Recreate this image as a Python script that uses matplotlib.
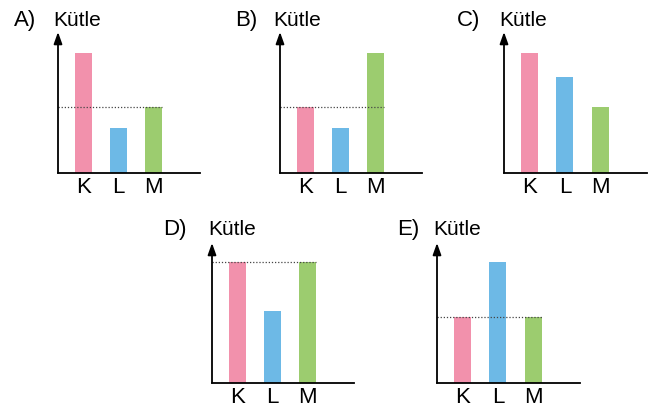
import matplotlib
matplotlib.use("Agg")
import matplotlib.pyplot as plt

# ==========================================================
# DATA (mass of K, L, M in each option)
# ==========================================================
options = ["A)", "B)", "C)", "D)", "E)"]
categories = ["K", "L", "M"]
mass_a = [12.0, 4.5, 6.6]
mass_b = [6.6, 4.5, 12.0]
mass_c = [12.0, 9.6, 6.6]
mass_d = [12.1, 7.2, 12.1]
mass_e = [6.6, 12.1, 6.6]
# level of the dotted reference line (None = no line)
ref_levels = [6.6, 6.6, None, 12.1, 6.6]
y_label = "Kütle"

all_mass = [mass_a, mass_b, mass_c, mass_d, mass_e]
bar_colors = ["#f291ac", "#6db9e6", "#9ccc6f"]

# ==========================================================
# LAYOUT (pixel positions in the 657x411 picture)
# ==========================================================
W, H = 657, 411
# y-axis x, baseline y, x-axis end, arrow tip y
panel_px = [
    (58, 173, 200, 32),
    (280, 173, 422, 32),
    (504, 173, 647, 32),
    (212, 383, 354, 243),
    (437, 383, 580, 243),
]
# left of option letter, left of "Kütle", text baseline
label_px = [
    (14, 53, 26),
    (235, 273, 26),
    (457, 499, 26),
    (163, 208, 235),
    (397, 433, 235),
]

plt.rcParams['font.family'] = ['Liberation Sans', 'DejaVu Sans']

fig = plt.figure(figsize=(W / 100, H / 100), dpi=100)
fig.patch.set_facecolor("white")

for i in range(5):
    x0, yb, xe, yt = panel_px[i]
    ax = fig.add_axes([x0 / W, 1 - yb / H, (xe - x0) / W, (yb - yt) / H])
    ax.set_xlim(-0.71, 3.31)
    ax.set_ylim(0, (yb - yt) / 10)

    ax.bar(range(3), all_mass[i], width=0.48, color=bar_colors, zorder=2)

    if ref_levels[i] is not None:
        ax.plot([-0.71, 2.24], [ref_levels[i], ref_levels[i]],
                linestyle=(0, (1, 1.5)), color="#444444", lw=0.9, zorder=3)

    # axes: only bottom spine + arrow for y
    for s in ["top", "right", "left"]:
        ax.spines[s].set_visible(False)
    ax.spines["bottom"].set_linewidth(1.3)
    ax.annotate("", xy=(0, 1), xytext=(0, 0), xycoords="axes fraction",
                arrowprops=dict(arrowstyle="-|>,head_length=0.7,head_width=0.25",
                                color="black", lw=1.3, mutation_scale=10,
                                shrinkA=0, shrinkB=0))

    ax.set_xticks(range(3))
    ax.set_xticklabels(categories, fontsize=16)
    ax.tick_params(axis="x", length=0, pad=3)
    ax.set_yticks([])
    ax.patch.set_alpha(0)

    lx, kx, by = label_px[i]
    fig.text(lx / W, 1 - by / H, options[i], fontsize=16, va="baseline")
    fig.text(kx / W, 1 - by / H, y_label, fontsize=15, va="baseline")

fig.savefig("out.png", dpi=100, facecolor="white")
